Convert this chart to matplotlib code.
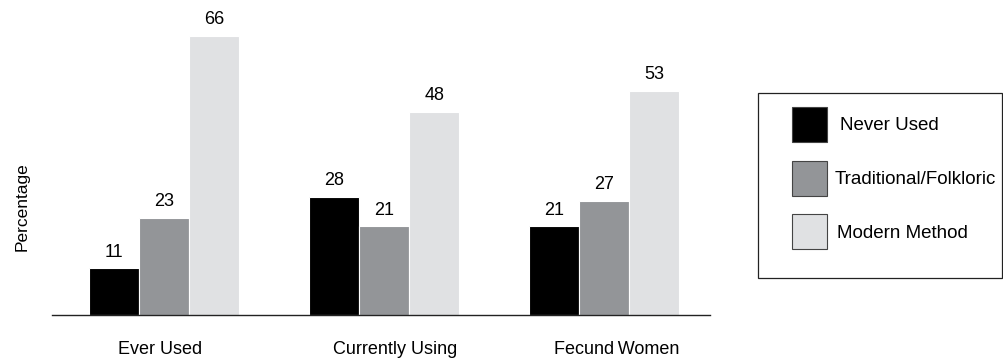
import matplotlib
matplotlib.use('Agg')
import matplotlib.pyplot as plt
from matplotlib.patches import Rectangle
import numpy as np

plt.rcParams['font.family'] = ['Liberation Sans', 'DejaVu Sans']

CATEGORIES = ['Ever Used', 'Currently Using', 'Fecund\u2009Women']
SERIES = ['Never Used', 'Traditional/Folkloric', 'Modern Method']
NEVER_USED = [11, 28, 21]
TRADITIONAL = [23, 21, 27]
MODERN = [66, 48, 53]
COLORS = ['#000000', '#939598', '#e0e1e3']

OUTPUT = 'out.png'


def main():
    fig = plt.figure(figsize=(10.04, 3.6), dpi=100)
    # plot area in pixel terms: x 52..710, baseline at y=315
    ax = fig.add_axes([52 / 1004, (360 - 315) / 360, (710 - 52) / 1004, 315 / 360])

    x = np.arange(len(CATEGORIES))
    width = 0.227
    values = [NEVER_USED, TRADITIONAL, MODERN]
    for i, (vals, color) in enumerate(zip(values, COLORS)):
        pos = x + (i - 1) * width
        ax.bar(pos, vals, width, color=color, edgecolor='white', linewidth=0.8)
        for px, v in zip(pos, vals):
            ax.text(px, v + 1.8, str(v), ha='center', va='bottom', fontsize=13)

    ax.set_xlim(-0.51, 2.48)
    ax.set_ylim(0, 74.5)
    for side in ('top', 'right', 'left'):
        ax.spines[side].set_visible(False)
    ax.spines['bottom'].set_linewidth(1.0)
    ax.spines['bottom'].set_color('#222222')
    ax.set_yticks([])
    ax.set_xticks(x + np.array([-0.02, 0.05, 0.055]))
    ax.set_xticklabels(CATEGORIES, fontsize=13)
    ax.tick_params(axis='x', length=0, pad=19)
    ax.set_ylabel('Percentage', fontsize=12.5)
    ax.yaxis.set_label_coords(-22 / 658, 0.343)

    # legend box drawn by hand
    lax = fig.add_axes([0, 0, 1, 1])
    lax.set_xlim(0, 1004)
    lax.set_ylim(360, 0)
    lax.axis('off')
    lax.add_patch(Rectangle((758, 93), 244, 185, facecolor='white',
                            edgecolor='#222222', linewidth=0.9))
    text_x = [840, 835, 837]
    for i, (label, color) in enumerate(zip(SERIES, COLORS)):
        top = 107 + i * 53.5
        lax.add_patch(Rectangle((792, top), 35, 35, facecolor=color,
                                edgecolor='#444444', linewidth=0.8))
        lax.text(text_x[i], top + 19, label, ha='left', va='center', fontsize=13.5)

    fig.savefig(OUTPUT, dpi=100)


if __name__ == '__main__':
    main()
